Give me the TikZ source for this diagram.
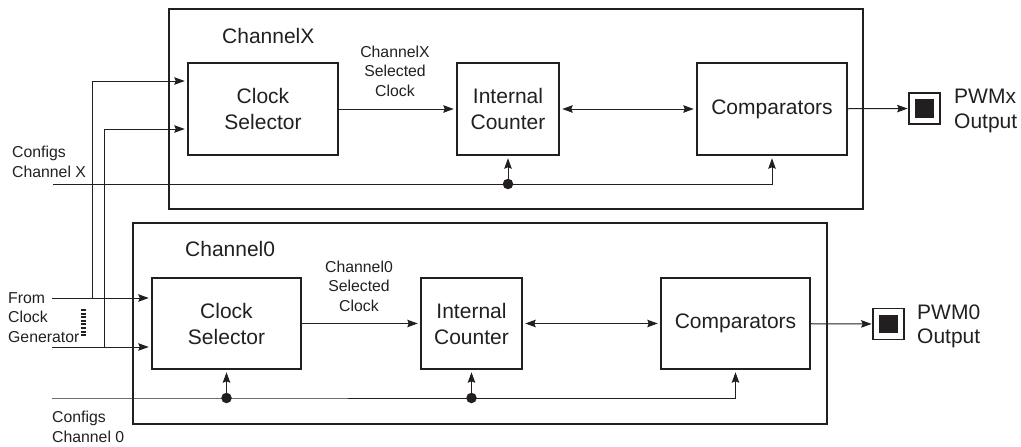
\documentclass[tikz,border=0pt]{standalone}
\usepackage{fontspec}
\setmainfont{Liberation Sans}
\usetikzlibrary{arrows.meta}
\definecolor{ink}{HTML}{231F20}
\begin{document}
\begin{tikzpicture}[x=1pt,y=-1pt, color=ink,
  blk/.style={draw, line width=1.5pt, inner sep=0pt, align=center, font=\fontsize{21}{26}\selectfont},
  frame/.style={draw, line width=1.6pt, inner sep=0pt},
  wire/.style={line width=1pt},
  tip/.tip={Stealth[length=10.5pt,width=7.5pt,inset=1.5pt]},
  arr/.style={wire, -tip, shorten >=2.5pt},
  dot/.style={circle, fill, inner sep=0pt, minimum size=10.5pt},
  small/.style={font=\fontsize{15.8}{19.3}\selectfont, inner sep=0pt, align=center},
  big/.style={font=\fontsize{21}{25}\selectfont, inner sep=0pt, align=left},
  pwmbox/.style={draw, line width=1.7pt, fill=white, minimum size=31pt, inner sep=0pt},
  pwmcore/.style={fill=ink, minimum size=18.5pt, inner sep=0pt}]
\useasboundingbox (0,0) rectangle (1021,447);

% channel frames
\node[frame, minimum width=694pt, minimum height=200pt] (chx) at (516,109) {};
\node[frame, minimum width=694pt, minimum height=201pt] (ch0) at (480,323.5) {};

% blocks channel X
\node[blk, minimum width=150pt, minimum height=92pt] (csx) at (263,109) {Clock\\Selector};
\node[blk, minimum width=102pt, minimum height=92pt] (icx) at (508,109) {Internal\\Counter};
\node[blk, minimum width=150pt, minimum height=92pt] (cmpx) at (772,109) {Comparators};
% blocks channel 0
\node[blk, minimum width=149pt, minimum height=91pt] (cs0) at (226.5,323.5) {Clock\\Selector};
\node[blk, minimum width=101pt, minimum height=91pt] (ic0) at (471.5,323.5) {Internal\\Counter};
\node[blk, minimum width=149pt, minimum height=91pt] (cmp0) at (735.5,323.5) {Comparators};

% PWM outputs
\node[pwmbox] (pwmx) at (924.5,108.5) {};
\node[pwmcore] (pwmxc) at (pwmx.center) {};
\node[pwmbox] (pwm0) at (888.5,324) {};
\node[pwmcore] (pwm0c) at (pwm0.center) {};

% labels (anchor base = baseline of the last line)
\node[big, anchor=base west] (lx) at (222,43) {ChannelX};
\node[big, anchor=base west] (l0) at (185,256) {Channel0};
\node[small, anchor=base] (selx) at (395,96) {ChannelX\\Selected\\Clock};
\node[small, anchor=base] (sel0) at (359,311) {Channel0\\Selected\\Clock};
\node[big, anchor=base west] (outx) at (954,128) {PWMx\\Output};
\node[big, anchor=base west, font=\fontsize{21}{24}\selectfont] (out0) at (917,343) {PWM0\\Output};
\node[small, anchor=base west, align=left] (cfgxl) at (12,177) {Configs\\Channel X};
\node[small, anchor=base west, align=left] (clkl) at (8,342) {From\\Clock\\Generator};
\node[small, anchor=base west, align=left] (cfg0l) at (52,442) {Configs\\Channel 0};

% clock generator inputs
\coordinate (ckA) at (52,298);
\coordinate (ckB) at (52,347);
\coordinate (upA) at (92,81);
\coordinate (upB) at (104,129);
\draw[arr] (ckA) -- (cs0.west |- ckA);
\draw[arr] (ckB) -- (cs0.west |- ckB);
\draw[arr] (upA |- ckA) -- (upA) -- (csx.west |- upA);
\draw[arr] (upB |- ckB) -- (upB) -- (csx.west |- upB);
\draw[line width=5pt, dash pattern=on 2pt off 1.6pt] (83,309) -- (83,337);

% channel X data path
\draw[arr] (csx) -- (icx);
\draw[wire, tip-tip, shorten >=2.5pt, shorten <=2.5pt] (icx) -- (cmpx);
\draw[wire, -tip, shorten >=0.5pt] (cmpx) -- (pwmx);

% channel 0 data path
\draw[arr] (cs0) -- (ic0);
\draw[wire, tip-tip, shorten >=2.5pt, shorten <=2.5pt] (ic0) -- (cmp0);
\draw[wire, -tip, shorten >=0.5pt] (cmp0) -- (pwm0);

% config bus X
\coordinate (bx) at (53,184);
\node[dot] (dx) at (icx |- bx) {};
\draw[wire] (bx) -- (dx.center);
\draw[arr] (dx.center) -| (cmpx.south);
\draw[arr] (dx.center) -- (icx.south);

% config bus 0
\coordinate (b0) at (52,398);
\node[dot] (d0a) at (cs0 |- b0) {};
\node[dot] (d0b) at (ic0 |- b0) {};
\draw[wire] (b0) -- (d0a.center) -- (d0b.center);
\draw[arr] (d0b.center) -| (cmp0.south);
\draw[arr] (d0a.center) -- (cs0.south);
\draw[arr] (d0b.center) -- (ic0.south);
\end{tikzpicture}
\end{document}
